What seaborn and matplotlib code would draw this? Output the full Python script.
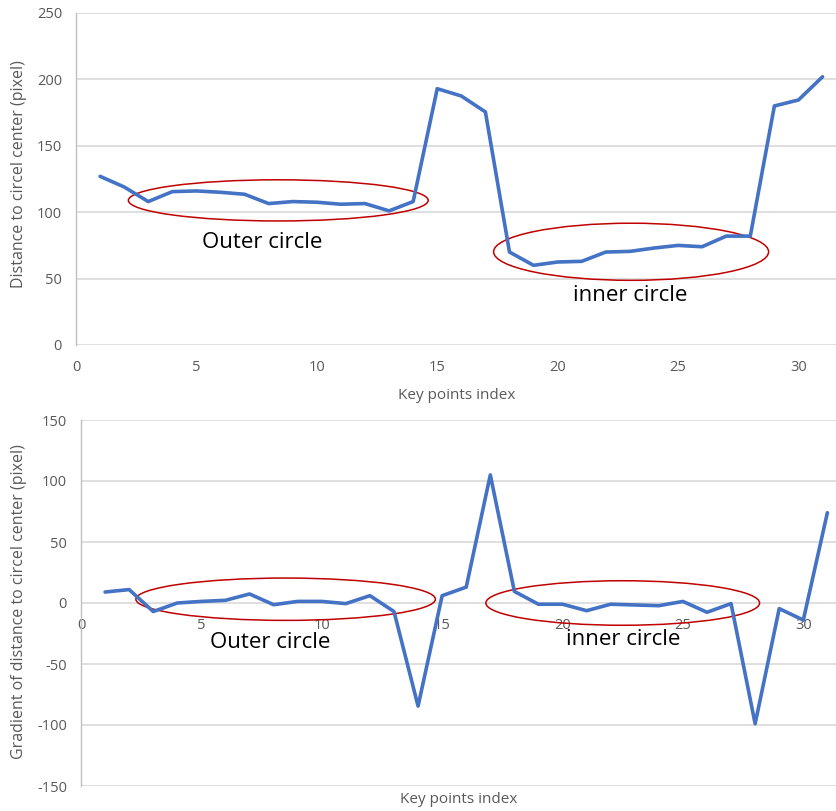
import pandas as pd
import matplotlib.pyplot as plt
import seaborn as sns
from matplotlib.patches import Ellipse

# data
key_index = list(range(1, 32))
distance = [127, 119, 108, 115.5, 116, 115, 113.5, 106.5, 108, 107.5, 106, 106.5, 101, 108,
            193, 187.5, 175.5, 70, 60, 62.5, 63, 70, 70.5, 73, 75, 74, 82, 82, 180, 184.5, 202]
gradient = [9, 11, -7, 0, 1.3, 2.2, 7.4, -1.4, 1.3, 1.3, -0.5, 6, -7, -84.5, 6, 13,
            105, 9.5, -1, -1, -6.3, -1, -1.6, -2.2, 1.3, -7.6, -0.5, -99, -4.6, -14, 74]
top_ticks_y = [0, 50, 100, 150, 200, 250]
bottom_ticks_y = [-150, -100, -50, 0, 50, 100, 150]
ticks_x = [0, 5, 10, 15, 20, 25, 30]

df = pd.DataFrame({"idx": key_index, "dist": distance, "grad": gradient})

sns.set_style("white")
plt.rcParams['font.family'] = ['Open Sans', 'DejaVu Sans']
plt.rcParams['axes.unicode_minus'] = False

BLUE = "#4472C4"
RED = "#C00000"
GRID = "#D9D9D9"
TXT = "#595959"

fig = plt.figure(figsize=(8.37, 8.11), dpi=100)
ax1 = fig.add_axes([76 / 837, (811 - 345) / 811, 761 / 837, 332 / 811])
ax2 = fig.add_axes([81 / 837, (811 - 786) / 811, 756 / 837, 366 / 811])


def style(ax, yticks, xmax):
    ax.set_xlim(0, xmax)
    ax.set_ylim(yticks[0], yticks[-1])
    ax.set_yticks(yticks)
    ax.set_xticks(ticks_x)
    ax.set_yticklabels([str(t) for t in yticks])
    ax.yaxis.grid(True, color=GRID, linewidth=1.2)
    ax.xaxis.grid(False)
    ax.set_axisbelow(True)
    for s in ["top", "right", "bottom"]:
        ax.spines[s].set_visible(False)
    ax.spines["left"].set_color("#BFBFBF")
    ax.spines["left"].set_linewidth(1.0)
    ax.tick_params(axis="both", length=0, labelsize=10.5, labelcolor=TXT)
    ax.tick_params(axis="y", pad=10)
    ax.tick_params(axis="x", pad=11)


# top chart
sns.lineplot(data=df, x="idx", y="dist", ax=ax1, color=BLUE, linewidth=2.6)
style(ax1, top_ticks_y, 31.6)
ax1.set_xlabel("Key points index", fontsize=11, color=TXT)
ax1.set_ylabel("Distance to circel center (pixel)", fontsize=11.5, color=TXT)
ax1.xaxis.set_label_coords(0.5, -0.13)
ax1.yaxis.set_label_coords(-0.064, 0.515)
ax1.add_patch(Ellipse((8.4, 108.9), 12.45, 31, fill=False, edgecolor=RED, linewidth=1.1))
ax1.add_patch(Ellipse((23.05, 70.2), 11.42, 43, fill=False, edgecolor=RED, linewidth=1.1))
ax1.text(7.73, 77, "Outer circle", fontsize=16, ha="center", va="center", color="black")
ax1.text(23.0, 37.4, "inner circle", fontsize=16, ha="center", va="center", color="black")

# bottom chart
sns.lineplot(data=df, x="idx", y="grad", ax=ax2, color=BLUE, linewidth=2.6)
style(ax2, bottom_ticks_y, 31.4)
ax2.spines["bottom"].set_position(("data", 0))
ax2.set_xlabel("Key points index", fontsize=11, color=TXT)
ax2.set_ylabel("Gradient of distance to circel center (pixel)", fontsize=11.5, color=TXT)
ax2.xaxis.set_label_coords(0.5, -0.017)
ax2.yaxis.set_label_coords(-0.071, 0.505)
ax2.add_patch(Ellipse((8.5, 3.1), 12.44, 34.7, fill=False, edgecolor=RED, linewidth=1.1))
ax2.add_patch(Ellipse((22.5, 0), 11.37, 36.5, fill=False, edgecolor=RED, linewidth=1.1))
ax2.text(7.84, -32.5, "Outer circle", fontsize=16, ha="center", va="center", color="black")
ax2.text(22.5, -29.7, "inner circle", fontsize=16, ha="center", va="center", color="black")

plt.savefig("out.png", dpi=100)
